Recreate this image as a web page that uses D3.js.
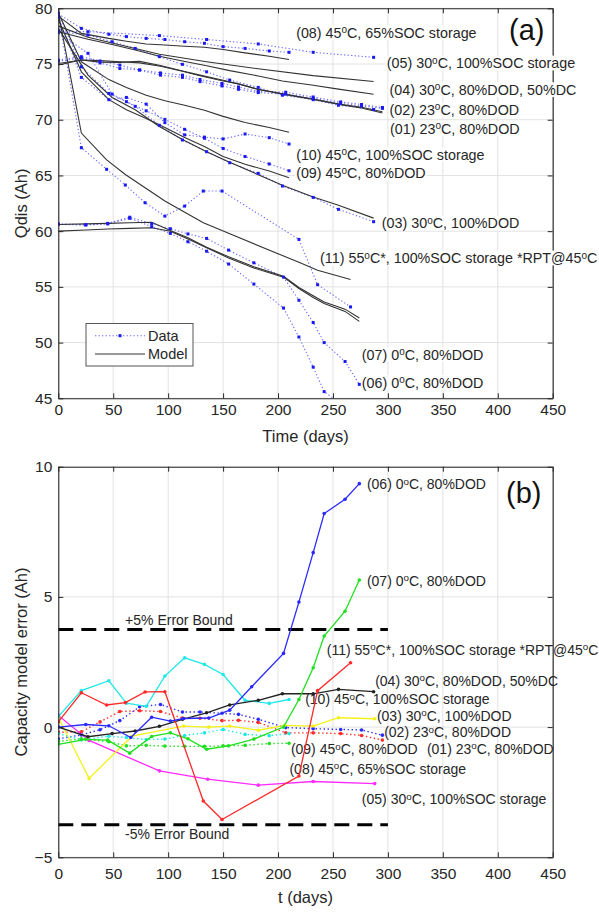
<!DOCTYPE html>
<html>
<head>
<meta charset="utf-8">
<script src="https://cdn.jsdelivr.net/npm/d3@7"></script>
<style>
  body { margin: 0; background: #fff; }
  svg { display: block; }
</style>
</head>
<body>
<svg id="chart" width="599" height="912"></svg>
<script>
// ---------- shared axis ticks ----------
const xTicks = [0, 50, 100, 150, 200, 250, 300, 350, 400, 450];
const yTicksA = [45, 50, 55, 60, 65, 70, 75, 80];
const yTicksB = [-5, 0, 5, 10];

// ---------- panel (a): discharge capacity, measured (Data) and simulated (Model) ----------
// sampling days per test group
const t23 = [0, 21, 38, 56, 74, 93, 113, 129, 149, 164, 182, 207, 232, 257, 276, 295];
const t30 = [0, 27, 49, 70, 92, 113, 135, 156, 182, 204, 232, 255, 287];
const t30s = [0, 27, 92, 135, 182, 232, 287];
const t45 = [0, 21, 46, 62, 80, 97, 115, 133, 150, 170, 192, 210];
const t0c = [0, 25, 45, 65, 85, 102, 118, 135, 155, 178, 205, 219, 232, 242, 261, 274];
const t55 = [0, 21, 44, 61, 79, 97, 115, 132, 149, 219, 236, 266];
const t55m = [0, 21, 44, 61, 79, 97, 132, 149, 219, 236, 266];

const q01 = [75.25, 75.54, 75.1, 74.6, 74.47, 74.2, 74.0, 73.61, 73.25, 72.94, 72.54, 72.47, 72.04, 71.6, 71.37, 71.1];
const m01 = [75.05, 75.36, 75.3, 75.2, 75.1, 74.8, 74.35, 73.95, 73.5, 73.2, 72.72, 72.25, 71.82, 71.35, 71.05, 70.6];
const q02 = [75.36, 75.66, 75.27, 74.9, 74.46, 74.0, 73.8, 73.42, 73.03, 72.73, 72.43, 72.3, 71.92, 71.47, 71.23, 71.02];
const m02 = [74.91, 75.36, 75.17, 75.15, 75.24, 74.87, 74.38, 74.0, 73.56, 73.22, 72.73, 72.28, 71.86, 71.38, 71.12, 70.71];
const q03 = [77.8, 75.96, 72.3, 71.2, 69.5, 68.18, 67.13, 66.14, 65.19, 64.05, 63.03, 61.96, 60.85];
const m03 = [78.2, 74.0, 72.0, 70.9, 69.4, 68.22, 67.13, 66.18, 65.07, 64.12, 63.07, 62.32, 61.17];
const q04 = [77.9, 77.6, 77.0, 76.4, 75.66, 74.97, 74.3, 73.56, 72.9, 72.2, 71.8, 71.3, 70.92];
const m04 = [77.9, 77.23, 76.75, 76.25, 75.69, 75.27, 74.85, 74.41, 73.93, 73.48, 73.1, 72.75, 72.28];
const q05 = [77.95, 77.9, 77.55, 77.2, 76.8, 76.05, 75.6];
const m05 = [78.4, 77.4, 75.87, 75.2, 74.57, 73.96, 73.43];
const q06 = [60.6, 60.55, 60.65, 61.15, 60.4, 59.8, 59.05, 58.2, 57.05, 55.25, 53.1, 50.5, 47.8, 45.6, 44.2, 42.8];
const m06 = [60.6, 60.65, 60.7, 60.75, 60.8, 60.05, 59.4, 58.55, 57.7, 56.8, 55.95, 54.95, 54.2, 53.65, 53.0, 52.2];
const q07 = [60.66, 60.57, 60.7, 61.25, 60.66, 60.22, 59.75, 59.35, 58.3, 57.16, 55.87, 53.8, 51.8, 50.0, 48.3, 46.25];
const m07 = [60.0, 60.1, 60.2, 60.25, 60.3, 60.0, 59.3, 58.5, 57.6, 56.7, 55.87, 54.85, 54.05, 53.5, 52.8, 51.9];
const q08 = [79.5, 78.2, 77.67, 77.46, 77.3, 77.2, 77.0, 76.86, 76.56, 76.4, 76.17, 76.05];
const m08 = [79.3, 77.75, 77.3, 77.05, 76.8, 76.7, 76.6, 76.5, 76.3, 76.0, 75.7, 75.4];
const q09 = [79.55, 74.75, 72.36, 71.62, 70.8, 70.03, 69.14, 68.34, 67.42, 66.7, 66.03, 65.42];
const m09 = [79.0, 74.3, 71.8, 70.9, 70.1, 69.3, 68.4, 67.6, 66.7, 66.0, 65.4, 64.8];
const q10 = [79.2, 73.8, 71.8, 72.0, 71.4, 69.74, 68.64, 68.44, 68.28, 68.72, 68.39, 67.82];
const m10 = [79.6, 75.2, 73.6, 72.9, 72.2, 71.7, 71.3, 70.85, 70.3, 69.75, 69.3, 68.88];
const q11 = [79.4, 67.49, 65.55, 64.14, 62.55, 61.35, 62.25, 63.6, 63.6, 59.26, 55.2, 53.2];
const m11 = [79.6, 68.8, 66.4, 65.08, 63.9, 62.71, 60.76, 60.05, 57.2, 56.5, 55.67];

// ---------- panel (b): capacity model error per test ----------
const tb23 = [0, 21, 38, 56, 74, 93, 113, 129, 149, 164, 182, 207, 232, 257, 276, 295];
const tb03 = [0, 28, 67, 114, 137, 156, 182, 206, 232, 255, 288];
const tb04 = [0, 27, 49, 70, 92, 113, 135, 156, 182, 204, 232, 255, 287];
const tb05 = [0, 28, 92, 136, 182, 232, 288];
const tb06 = [0, 25, 46, 66, 85, 102, 114, 137, 156, 176, 205, 219, 232, 242, 261, 274];
const tb07 = [0, 25, 45, 65, 85, 102, 118, 135, 155, 178, 205, 219, 232, 242, 261, 274];
const tb45 = [0, 21, 46, 62, 80, 97, 115, 133, 150, 170, 192, 210];
const tb11 = [0, 21, 44, 61, 79, 97, 132, 149, 219, 236, 266];

const e01 = [-0.2, -0.18, 0.2, 0.6, 0.63, 0.6, 0.35, 0.34, 0.25, 0.26, 0.18, -0.22, -0.22, -0.25, -0.32, -0.5];
const e02 = [-0.45, -0.3, -0.1, 0.25, 0.78, 0.87, 0.58, 0.58, 0.53, 0.49, 0.3, -0.02, -0.06, -0.09, -0.11, -0.31];
const e03 = [0.38, -1.97, -0.35, 0.04, 0.0, 0.04, -0.12, 0.07, 0.04, 0.36, 0.32];
const e04 = [0.0, -0.37, -0.25, -0.15, 0.03, 0.3, 0.55, 0.85, 1.03, 1.28, 1.28, 1.45, 1.36];
const e05 = [0.45, -0.51, -1.68, -2.0, -2.23, -2.09, -2.17];
const e06 = [0.0, 0.1, 0.05, -0.4, 0.38, 0.23, 0.33, 0.35, 0.65, 1.55, 2.83, 4.8, 6.7, 8.2, 8.75, 9.35];
const e07 = [-0.66, -0.47, -0.5, -1.0, -0.36, -0.22, -0.45, -0.85, -0.72, -0.46, 0.0, 1.06, 2.28, 3.5, 4.45, 5.65];
const e08 = [-0.25, -0.49, -0.35, -0.4, -0.48, -0.46, -0.32, -0.22, -0.09, -0.28, -0.33, -0.25];
const e09 = [-0.55, -0.45, -0.56, -0.72, -0.7, -0.73, -0.74, -0.74, -0.72, -0.7, -0.63, -0.62];
const e10 = [0.4, 1.4, 1.78, 0.92, 0.8, 1.96, 2.66, 2.41, 2.02, 1.03, 0.91, 1.06];
const e11 = [0.2, 1.32, 0.85, 0.94, 1.35, 1.36, -2.84, -3.55, -1.88, 1.4, 2.47];

// +/-5% of nominal capacity
const errorBound = [3.75, -3.75];
const boundSpan = [0, 300];

// test condition names
const names = {
  "01": "(01) 23°C, 80%DOD",
  "02": "(02) 23°C, 80%DOD",
  "03": "(03) 30°C, 100%DOD",
  "04": "(04) 30°C, 80%DOD, 50%DC",
  "05": "(05) 30°C, 100%SOC storage",
  "06": "(06) 0°C, 80%DOD",
  "07": "(07) 0°C, 80%DOD",
  "08": "(08) 45°C, 65%SOC storage",
  "09": "(09) 45°C, 80%DOD",
  "10": "(10) 45°C, 100%SOC storage",
  "11": "(11) 55°C*, 100%SOC storage *RPT@45°C"
};

// ---------- layout ----------
const FONT = '"Liberation Sans", Arial, Helvetica, sans-serif';
const svg = d3.select("#chart");
const boxA = { l: 58.3, r: 552.7, t: 8.3, b: 398.3 };
const boxB = { l: 58.3, r: 552.7, t: 466.7, b: 857.3 };

const xA = d3.scaleLinear().domain([0, 450]).range([boxA.l, boxA.r]);
const yA = d3.scaleLinear().domain([45, 80]).range([boxA.b, boxA.t]);
const xB = d3.scaleLinear().domain([0, 450]).range([boxB.l, boxB.r]);
const yB = d3.scaleLinear().domain([-5, 10]).range([boxB.b, boxB.t]);

const GRID = "#e2e2e2";
const AXIS = "#262626";

function drawGrid(box, x, y, yTicks) {
  const g = svg.append("g");
  g.append("g").selectAll("line").data(xTicks).join("line")
    .attr("x1", d => x(d)).attr("x2", d => x(d))
    .attr("y1", box.t).attr("y2", box.b)
    .attr("stroke", GRID).attr("stroke-width", 1);
  g.append("g").selectAll("line").data(yTicks).join("line")
    .attr("y1", d => y(d)).attr("y2", d => y(d))
    .attr("x1", box.l).attr("x2", box.r)
    .attr("stroke", GRID).attr("stroke-width", 1);
  return g;
}

function drawAxes(box, x, y, yTicks, xPad) {
  const g = svg.append("g");
  const tick = 5;
  g.append("g").attr("transform", `translate(0,${box.b})`)
    .call(d3.axisBottom(x).tickValues(xTicks).tickSizeInner(-tick).tickSizeOuter(0).tickPadding(xPad));
  g.append("g").attr("transform", `translate(${box.l},0)`)
    .call(d3.axisLeft(y).tickValues(yTicks).tickSizeInner(-tick).tickSizeOuter(0).tickPadding(6));
  g.append("g").attr("transform", `translate(0,${box.t})`)
    .call(d3.axisTop(x).tickValues(xTicks).tickSizeInner(-tick).tickSizeOuter(0).tickFormat(""));
  g.append("g").attr("transform", `translate(${box.r},0)`)
    .call(d3.axisRight(y).tickValues(yTicks).tickSizeInner(-tick).tickSizeOuter(0).tickFormat(""));
  g.selectAll("path.domain").attr("stroke", AXIS).attr("stroke-width", 1.1);
  g.selectAll(".tick line").attr("stroke", AXIS);
  g.selectAll(".tick text").attr("fill", "#262626").attr("font-size", 15.5).attr("font-family", FONT);
  return g;
}

function clipFor(id, box) {
  svg.append("clipPath").attr("id", id).append("rect")
    .attr("x", box.l).attr("y", box.t).attr("width", box.r - box.l).attr("height", box.b - box.t);
}

// text with a raised small "o" for degrees
function richLabel(parent, str, px, py, size, bg) {
  const g = parent.append("g");
  const t = g.append("text").attr("x", px).attr("y", py)
    .attr("font-family", FONT).attr("font-size", size).attr("fill", "#262626");
  const parts = str.split("°");
  parts.forEach((p, i) => {
    if (i > 0) {
      t.append("tspan").attr("dy", -0.33 * size).attr("font-size", size * 0.7).text("o");
      t.append("tspan").attr("dy", 0.33 * size).text(p);
    } else {
      t.append("tspan").text(p);
    }
  });
  if (bg) {
    const bb = t.node().getBBox();
    g.insert("rect", "text").attr("x", bb.x - 1).attr("y", bb.y + 1)
      .attr("width", bb.width + 2).attr("height", bb.height - 2).attr("fill", "#fff");
  }
  return g;
}

// ================= panel (a) =================
drawGrid(boxA, xA, yA, yTicksA);
clipFor("clipA", boxA);

const seriesA = [
  { id: "08", t: t45, q: q08, tm: t45, m: m08 },
  { id: "05", t: t30s, q: q05, tm: t30s, m: m05 },
  { id: "04", t: t30, q: q04, tm: t30, m: m04 },
  { id: "02", t: t23, q: q02, tm: t23, m: m02 },
  { id: "01", t: t23, q: q01, tm: t23, m: m01 },
  { id: "10", t: t45, q: q10, tm: t45, m: m10 },
  { id: "09", t: t45, q: q09, tm: t45, m: m09 },
  { id: "03", t: t30, q: q03, tm: t30, m: m03 },
  { id: "11", t: t55, q: q11, tm: t55m, m: m11 },
  { id: "07", t: t0c, q: q07, tm: t0c, m: m07 },
  { id: "06", t: t0c, q: q06, tm: t0c, m: m06 }
];

const gA = svg.append("g").attr("clip-path", "url(#clipA)");
const lineA = d3.line().x(d => xA(d[0])).y(d => yA(d[1]));

// measured data: dotted blue
gA.append("g").selectAll("path").data(seriesA).join("path")
  .attr("d", s => lineA(s.t.map((d, i) => [d, s.q[i]])))
  .attr("fill", "none").attr("stroke", "#6a6aff").attr("stroke-width", 1.1)
  .attr("stroke-dasharray", "1.3,2.2");
// model: solid dark
gA.append("g").selectAll("path").data(seriesA).join("path")
  .attr("d", s => lineA(s.tm.map((d, i) => [d, s.m[i]])))
  .attr("fill", "none").attr("stroke", "#333").attr("stroke-width", 1.1);
// data markers
gA.append("g").selectAll("g").data(seriesA).join("g")
  .selectAll("rect").data(s => s.t.map((d, i) => [d, s.q[i]])).join("rect")
  .attr("x", d => xA(d[0]) - 1.5).attr("y", d => yA(d[1]) - 1.5)
  .attr("width", 3).attr("height", 3).attr("fill", "#1a1af0");

drawAxes(boxA, xA, yA, yTicksA, 6);

// condition labels, anchored in data coordinates (day, Ah)
const labelPosA = {
  "08": [216.5, 77.78], "05": [299, 75.06], "04": [301.5, 72.67], "02": [301.5, 70.87],
  "01": [302, 69.17], "10": [216.5, 66.83], "09": [216.5, 65.19], "03": [294.5, 60.7],
  "11": [238.3, 57.56], "07": [276.3, 48.88], "06": [276.3, 46.39]
};
const labA = svg.append("g");
Object.keys(labelPosA).forEach(k => {
  const [d, v] = labelPosA[k];
  richLabel(labA, names[k], xA(d), yA(v) + 5, 14.3, true);
});

// legend
const leg = svg.append("g");
leg.append("rect").attr("x", 86).attr("y", 323.5).attr("width", 107).attr("height", 42.5)
  .attr("fill", "#fff").attr("stroke", "#555").attr("stroke-width", 1);
leg.append("line").attr("x1", 95).attr("x2", 145).attr("y1", 335.7).attr("y2", 335.7)
  .attr("stroke", "#6a6aff").attr("stroke-width", 1.1).attr("stroke-dasharray", "1.3,2.2");
leg.append("rect").attr("x", 118.5).attr("y", 334.2).attr("width", 3).attr("height", 3).attr("fill", "#1a1af0");
leg.append("line").attr("x1", 95).attr("x2", 145).attr("y1", 354).attr("y2", 354)
  .attr("stroke", "#333").attr("stroke-width", 1.1);
leg.append("text").attr("x", 148).attr("y", 340.7).attr("font-family", FONT).attr("font-size", 14.5)
  .attr("fill", "#262626").text("Data");
leg.append("text").attr("x", 148).attr("y", 359).attr("font-family", FONT).attr("font-size", 14.5)
  .attr("fill", "#262626").text("Model");

// axis titles and panel tag
svg.append("text").attr("x", (boxA.l + boxA.r) / 2).attr("y", 442)
  .attr("text-anchor", "middle").attr("font-family", FONT).attr("font-size", 16.5).attr("fill", "#262626")
  .text("Time (days)");
svg.append("text").attr("transform", `translate(27,${(boxA.t + boxA.b) / 2}) rotate(-90)`)
  .attr("text-anchor", "middle").attr("font-family", FONT).attr("font-size", 16.5).attr("fill", "#262626")
  .text("Qdis (Ah)");
svg.append("text").attr("x", 509).attr("y", 40).attr("font-family", FONT).attr("font-size", 29)
  .attr("fill", "#111").text("(a)");

// ================= panel (b) =================
drawGrid(boxB, xB, yB, yTicksB);
clipFor("clipB", boxB);

const seriesB = [
  { id: "01", t: tb23, e: e01, c: "#ff2a2a", dotted: true },
  { id: "02", t: tb23, e: e02, c: "#2a2aff", dotted: true },
  { id: "08", t: tb45, e: e08, c: "#1ee8e8", dotted: true },
  { id: "09", t: tb45, e: e09, c: "#1ee01e", dotted: true },
  { id: "05", t: tb05, e: e05, c: "#ff2aff", dotted: false },
  { id: "03", t: tb03, e: e03, c: "#f2f21a", dotted: false },
  { id: "10", t: tb45, e: e10, c: "#1ee8e8", dotted: false },
  { id: "04", t: tb04, e: e04, c: "#222222", dotted: false },
  { id: "07", t: tb07, e: e07, c: "#1ee01e", dotted: false },
  { id: "11", t: tb11, e: e11, c: "#ff2a2a", dotted: false },
  { id: "06", t: tb06, e: e06, c: "#2a2aff", dotted: false }
];

// condition labels for panel (b)
const labelPosB = {
  "06": [280.9, 9.32], "07": [280.9, 5.61], "11": [244.4, 2.98], "04": [288.4, 1.77],
  "10": [224.7, 1.07], "03": [290, 0.43], "02": [296.6, -0.2], "01": [335.5, -0.83],
  "09": [211.7, -0.86], "08": [210.4, -1.59], "05": [276.3, -2.78]
};
const labB = svg.append("g");
Object.keys(labelPosB).forEach(k => {
  const [d, v] = labelPosB[k];
  richLabel(labB, names[k], xB(d), yB(v) + 5, 14, false);
});

// +/-5% bounds
const gBound = svg.append("g");
errorBound.forEach(v => {
  gBound.append("line").attr("x1", xB(boundSpan[0])).attr("x2", xB(boundSpan[1]))
    .attr("y1", yB(v)).attr("y2", yB(v))
    .attr("stroke", "#000").attr("stroke-width", 3).attr("stroke-dasharray", "15,8");
});
gBound.append("text").attr("x", xB(60.8)).attr("y", yB(4.11) + 5).attr("font-family", FONT)
  .attr("font-size", 14).attr("fill", "#262626").text("+5% Error Bound");
gBound.append("text").attr("x", xB(60.8)).attr("y", yB(-4.09) + 5).attr("font-family", FONT)
  .attr("font-size", 14).attr("fill", "#262626").text("-5% Error Bound");

const gB = svg.append("g").attr("clip-path", "url(#clipB)");
const lineB = d3.line().x(d => xB(d[0])).y(d => yB(d[1]));
const sB = gB.selectAll("g").data(seriesB).join("g");
sB.append("path")
  .attr("d", s => lineB(s.t.map((d, i) => [d, s.e[i]])))
  .attr("fill", "none").attr("stroke", s => s.c).attr("stroke-width", s => s.dotted ? 1.4 : 1.3)
  .attr("stroke-dasharray", s => s.dotted ? "1.4,2.6" : null);
sB.selectAll("circle").data(s => s.t.map((d, i) => ({ x: d, y: s.e[i], c: s.c }))).join("circle")
  .attr("cx", d => xB(d.x)).attr("cy", d => yB(d.y)).attr("r", 1.8).attr("fill", d => d.c);

drawAxes(boxB, xB, yB, yTicksB, 11);

svg.append("text").attr("x", (boxB.l + boxB.r) / 2).attr("y", 903)
  .attr("text-anchor", "middle").attr("font-family", FONT).attr("font-size", 16.5).attr("fill", "#262626")
  .text("t (days)");
svg.append("text").attr("transform", `translate(27,${(boxB.t + boxB.b) / 2}) rotate(-90)`)
  .attr("text-anchor", "middle").attr("font-family", FONT).attr("font-size", 16.5).attr("fill", "#262626")
  .text("Capacity model error (Ah)");
svg.append("text").attr("x", 506).attr("y", 503).attr("font-family", FONT).attr("font-size", 29)
  .attr("fill", "#111").text("(b)");
</script>
</body>
</html>
